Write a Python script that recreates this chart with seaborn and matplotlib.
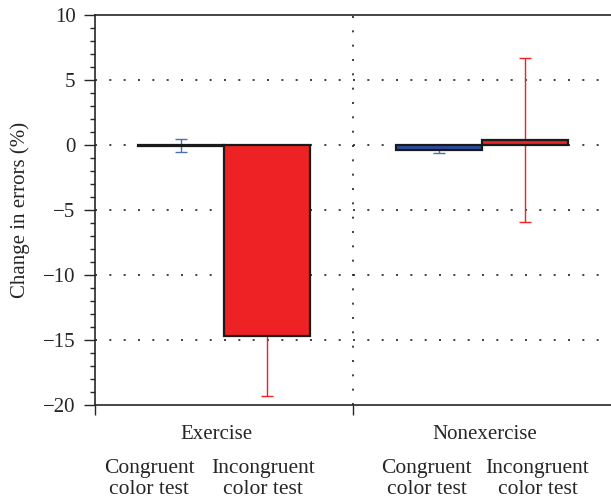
import numpy as np
import pandas as pd
import matplotlib
matplotlib.use("Agg")
import matplotlib.pyplot as plt
from matplotlib.ticker import MultipleLocator
import seaborn as sns

# values
groups = ["Exercise", "Nonexercise"]
tests = ["Congruent\ncolor test", "Incongruent\ncolor test"]
change_exercise = [-0.05, -14.7]
change_nonexercise = [-0.4, 0.4]
err_exercise = [0.5, 4.6]
err_nonexercise = [0.2, 6.3]

bar_colors = ["#2B4BA0", "#EE2225"]
err_colors = ["#4A6FB5", "#EE2225"]

df = pd.DataFrame({
    "group": np.repeat(groups, 2),
    "test": tests * 2,
    "change": change_exercise + change_nonexercise,
    "err": err_exercise + err_nonexercise,
})

sns.set_style("ticks")
plt.rcParams["font.family"] = ["Liberation Serif", "DejaVu Serif"]

fig = plt.figure(figsize=(6.11, 5.0), dpi=100)
ax = fig.add_axes([0.1555, 0.19, 0.8445, 0.78])

sns.barplot(data=df, x="group", y="change", hue="test", palette=bar_colors,
            order=groups, hue_order=tests, width=0.67, errorbar=None,
            edgecolor="#1a1a1a", linewidth=1.6, saturation=1, legend=False,
            ax=ax, zorder=3)

# error bars behind the bars, centred on each drawn patch
# (barplot orders patches by hue level first)
for i, patch in enumerate(ax.patches):
    t, g = divmod(i, 2)
    row = df[(df["group"] == groups[g]) & (df["test"] == tests[t])].iloc[0]
    xc = patch.get_x() + patch.get_width() / 2
    ax.errorbar(xc, row["change"], yerr=row["err"], fmt="none",
                ecolor=err_colors[t], elinewidth=1.0, capsize=4.5,
                capthick=1.0, zorder=2)

dots = (0, (1.2, 7.4))
for y in [5, 0, -5, -10, -15]:
    ax.axhline(y, color="#222222", linestyle=dots, linewidth=1.2, zorder=1)
ax.axvline(0.5, color="#222222", linestyle=dots, linewidth=1.2, zorder=1)

ax.set_ylim(-20, 10)
ax.set_xlim(-0.5, 1.5)
ax.yaxis.set_minor_locator(MultipleLocator(1))
ax.set_yticks([10, 5, 0, -5, -10, -15, -20])
ax.set_yticklabels(["10", "5", "0", "\u22125", "\u221210", "\u221215", "\u221220"])
ax.tick_params(axis="y", which="major", length=8, width=1, labelsize=15,
               direction="out", pad=6)
ax.tick_params(axis="y", which="minor", length=3.6, width=1, direction="out")
ax.set_xticks([-0.5, 0.5])
ax.set_xticklabels([])
ax.tick_params(axis="x", length=7.5, width=1, direction="out")

for side in ["top", "bottom", "left"]:
    ax.spines[side].set_linewidth(1.2)
    ax.spines[side].set_visible(True)
ax.spines["right"].set_visible(False)

ax.set_xlabel("")
ax.set_ylabel("Change in errors (%)", fontsize=15, labelpad=9)

# group and test labels under the axis
group_off = [-0.03, 0.01]
cong_off = [-0.29, -0.215]
incong_off = [0.15, 0.215]
for k, name in enumerate(groups):
    ax.text(k + group_off[k], -22.3, name, ha="center", va="center", fontsize=15)
    ax.text(k + cong_off[k], -25.7, tests[0], ha="center", va="center",
            fontsize=15.5, linespacing=1.1)
    ax.text(k + incong_off[k], -25.7, tests[1], ha="center", va="center",
            fontsize=15.5, linespacing=1.1)

fig.savefig("out.png", dpi=100)
